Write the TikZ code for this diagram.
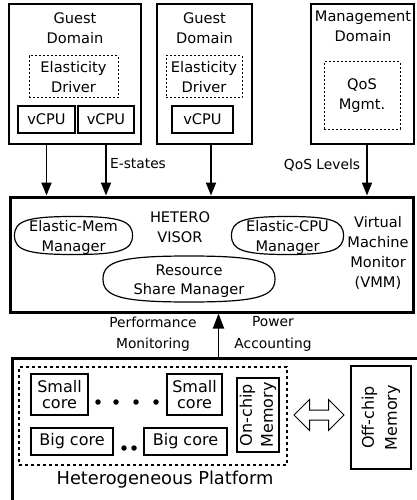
\documentclass[tikz,border=0pt]{standalone}
\usepackage{fontspec}
\setmainfont{DejaVu Sans}
\usetikzlibrary{arrows.meta,calc,shapes.geometric,shapes.arrows}

\tikzset{
  dombox/.style={draw,line width=1.9pt,minimum height=140pt},
  drvbox/.style={draw,line width=1pt,dash pattern=on 2pt off 2pt},
  cpubox/.style={draw,line width=1.2pt,minimum height=27pt},
  mgr/.style={ellipse,minimum width=2*#1},
  corebox/.style={draw,line width=1.2pt,font=\fontsize{16}{16}\selectfont},
  dotn/.style={circle,fill,minimum size=5.5pt},
  arr/.style={line width=1.9pt,-{Triangle[length=13pt,width=10pt]}},
  lbl/.style={font=\fontsize{13.8}{21.5}\selectfont}
}

% oval round a node: centre, x radius, y radius
\newcommand{\fatoval}[3]{%
  \draw[line width=1.2pt] ($(#1)+(-#2,0)$)
    .. controls +(0,-0.78*#3) and +(-0.78*#2,0) .. ($(#1)+(0,-#3)$)
    .. controls +(0.78*#2,0) and +(0,-0.78*#3) .. ($(#1)+(#2,0)$)
    .. controls +(0,0.78*#3) and +(0.78*#2,0) .. ($(#1)+(0,#3)$)
    .. controls +(-0.78*#2,0) and +(0,0.78*#3) .. ($(#1)+(-#2,0)$);}

\begin{document}
\begin{tikzpicture}[x=1pt,y=-1pt,
  every node/.style={font=\fontsize{14.6}{20}\selectfont,align=center,inner sep=0pt}]
	\useasboundingbox (0,0) rectangle (417,500);
	\clip (0,0) rectangle (417,500);

	% guest domains
	\node[dombox,minimum width=132pt] (gd1) at (75,74) {};
	\node (gd1t) at (75,28) {Guest\\Domain};
	\node[drvbox,minimum width=89pt,minimum height=42pt] (drv1) at (73.5,77) {Elasticity\\Driver};
	\node[cpubox,minimum width=57pt] (vc1) at (46.5,119.5) {vCPU};
	\node[cpubox,minimum width=56pt] (vc2) at (106,119.5) {vCPU};

	\node[dombox,minimum width=95pt] (gd2) at (204.5,74) {};
	\node (gd2t) at (204.5,28) {Guest\\Domain};
	\node[drvbox,minimum width=76pt,minimum height=42pt] (drv2) at (204,77) {Elasticity\\Driver};
	\node[cpubox,minimum width=61pt] (vc3) at (202.5,119.5) {vCPU};

	% management domain
	\node[dombox,line width=2.4pt,minimum width=103pt] (md) at (362.5,74) {};
	\node (mdt) at (363,26) {Management\\Domain};
	\node[drvbox,minimum width=76pt,minimum height=67pt] (qos) at (362,95.5) {QoS\\Mgmt.};

	% hypervisor
	\node[draw,line width=3pt,minimum width=403pt,minimum height=115pt] (hv) at (211.5,254.5) {};
	\node[mgr=59pt,minimum height=38pt] (mem) at (73.5,235.5) {};
	\fatoval{mem}{59}{19}
	\node (memt) at (73.5,237.5) {Elastic-Mem\\Manager};
	\node (hvt) at (180,227) {HETERO\\VISOR};
	\node[mgr=56pt,minimum height=38pt] (cpu) at (287.5,235.5) {};
	\fatoval{cpu}{56}{19}
	\node (cput) at (287.5,237.5) {Elastic-CPU\\Manager};
	\node (vmm) at (378,253) {Virtual\\Machine\\Monitor\\(VMM)};
	\node[mgr=86pt,minimum height=46pt] (rsm) at (189,279) {};
	\fatoval{rsm}{86}{23}
	\node[font=\fontsize{14.6}{19}\selectfont] (rsmt) at (189,281.5) {Resource\\Share Manager};

	% platform
	\node[draw,line width=3pt,minimum width=413pt,minimum height=143pt] (hp) at (218.5,429.5) {};
	\node[draw,line width=1.2pt,dash pattern=on 3pt off 3pt,minimum width=268pt,minimum height=98pt] (chip) at (153,416) {};
	\node[corebox,minimum width=57pt,minimum height=41pt] (sc1) at (59.5,394.5) {Small\\core};
	\node[corebox,minimum width=55pt,minimum height=41pt] (sc2) at (194.5,394.5) {Small\\core};
	\foreach \x [count=\i] in {98,116,136,156}
		\node[dotn] (sd\i) at (\x,402) {};
	\node[corebox,minimum width=82pt,minimum height=27pt] (bc1) at (72,441.5) {Big core};
	\node[corebox,minimum width=83pt,minimum height=27pt] (bc2) at (185.5,441.5) {Big core};
	\foreach \x [count=\i] in {124,134}
		\node[dotn] (bd\i) at (\x,448) {};
	\node[corebox,rotate=90,font=\fontsize{16}{21}\selectfont,minimum width=74pt,minimum height=42pt] (onm) at (258,415) {On-chip\\Memory};
	\node[corebox,rotate=90,font=\fontsize{16}{23}\selectfont,minimum width=103pt,minimum height=60pt] (offm) at (381,417.5) {Off-chip\\Memory};
	\node[double arrow,draw,line width=1pt,minimum height=50pt,inner sep=4.5pt,
		double arrow head extend=10.5pt,double arrow tip angle=90] (link) at (319,415) {};
	\node[font=\fontsize{17.8}{20}\selectfont] (hpt) at (165,480) {Heterogeneous Platform};

	% connectors
	\draw[arr] (gd1.south -| vc1) -- (vc1 |- hv.north);
	\draw[arr] (gd1.south -| vc2) -- (vc2 |- hv.north);
	\coordinate (a3) at ([xshift=6.5pt]gd2.south);
	\draw[arr] (a3) -- (a3 |- hv.north);
	\coordinate (a4) at ([xshift=4.5pt]md.south);
	\draw[arr] (a4) -- (a4 |- hv.north);
	\draw[arr,-{Triangle[length=15pt,width=11pt]}] (hp.north) -- (hp.north |- hv.south);

	\node[lbl] (es) at (138,164) {E-states};
	\node[lbl] (ql) at (322,165) {QoS Levels};
	\node[lbl] (pm) at (153,334) {Performance\\Monitoring};
	\node[lbl] (pa) at (273,334) {Power\\Accounting};
\end{tikzpicture}
\end{document}
